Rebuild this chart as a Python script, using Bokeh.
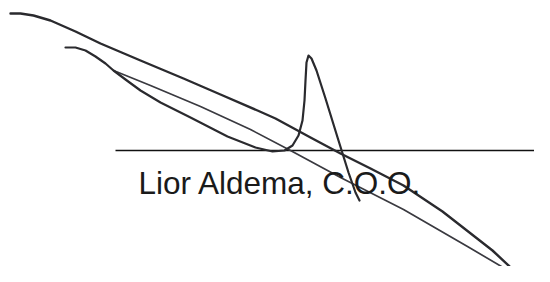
from bokeh.plotting import figure
from bokeh.models import Range1d
from bokeh.core.properties import value
from bokeh.embed import file_html
from bokeh.resources import INLINE

# Signature strokes (image pixel coordinates, y downward)
stroke_a_x = [10, 20, 33, 50, 75, 100, 140, 183, 220, 257, 275, 310, 340, 370, 403, 442, 492, 523]
stroke_a_y = [13, 13, 15, 20, 31, 43, 60, 78, 94, 110, 118, 137, 153, 168, 185, 211, 250, 279]

stroke_r_x = [523, 467, 403, 340, 290, 250, 200, 150, 113]
stroke_r_y = [279, 246, 209, 177, 150, 129, 106, 85, 70]

stroke_b_x = [65, 75, 85, 95, 105, 113, 125, 140, 160, 190, 227, 255, 272, 284, 292, 298, 302, 304, 305, 306, 308, 311, 316, 325, 338, 348, 355, 359]
stroke_b_y = [47, 47, 50, 56, 63, 70, 79, 90, 102, 117, 136, 147, 151, 150, 145, 135, 120, 100, 80, 62, 55, 58, 70, 98, 140, 172, 192, 200]

rule_x = [115, 550]
rule_y = [150, 150]

label_text = ["Lior Aldema, C.O.O."]
label_x = [138]
label_y = [182]

p = figure(width=534, height=266, output_backend="svg", toolbar_location=None,
           x_range=Range1d(0, 534), y_range=Range1d(266, 0),
           x_axis_location=None, y_axis_location=None, min_border=0)
p.grid.visible = False
p.outline_line_color = None
p.background_fill_color = "white"
p.border_fill_color = "white"

p.line(rule_x, rule_y, line_color="#111111", line_width=1.6)
p.line(stroke_a_x, stroke_a_y, line_color="#2a2a2e", line_width=2.4, line_join="round", line_cap="round")
p.line(stroke_r_x, stroke_r_y, line_color="#3a3a40", line_width=1.7, line_join="round", line_cap="round")
p.line(stroke_b_x, stroke_b_y, line_color="#2a2a2e", line_width=2.2, line_join="round", line_cap="round")

p.text(x=label_x, y=label_y, text=label_text, text_font=value("Liberation Sans"),
       text_font_size="31.5px", text_baseline="alphabetic", text_align="left",
       text_color="#1a1a1a")

open("out.html", "w").write(file_html(p, INLINE))
